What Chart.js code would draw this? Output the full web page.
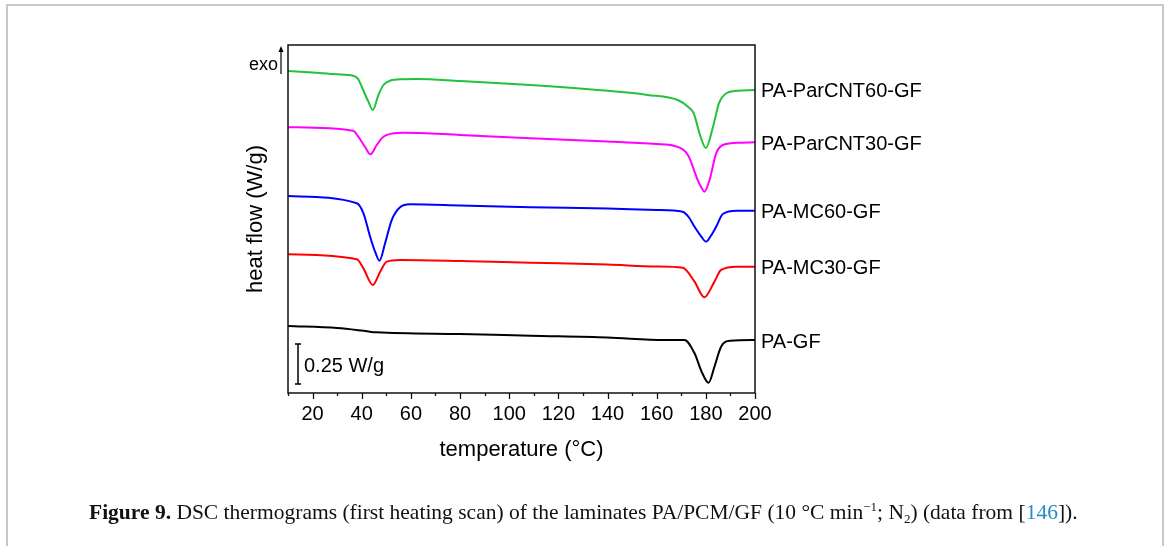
<!DOCTYPE html>
<html>
<head>
<meta charset="utf-8">
<script src="https://cdn.jsdelivr.net/npm/chart.js@4.4.0/dist/chart.umd.min.js"></script>
<style>
  body { margin: 0; background: #fff; width: 1167px; height: 546px; overflow: hidden; position: relative; }
  #frame { position: absolute; left: 6px; top: 4px; width: 1158px; height: 600px; box-sizing: border-box;
           border: 2px solid #c8c8c8; border-bottom: none; }
  #chart { position: absolute; left: 0; top: 0; }
  #caption { position: absolute; left: 89px; top: 498px; white-space: nowrap;
             font-family: "Liberation Serif", "DejaVu Serif", serif; font-size: 21.5px; line-height: 28px; color: #111; }
  #caption sup, #caption sub { font-size: 13px; line-height: 0; position: relative; vertical-align: baseline; }
  #caption sup { top: -8px; }
  #caption sub { top: 4px; }
  #caption .ref { color: #2a8bc6; }
</style>
</head>
<body>
<div id="frame"></div>
<canvas id="chart" width="1167" height="546"></canvas>
<div id="caption"><b>Figure 9.</b> DSC thermograms (first heating scan) of the laminates PA/PCM/GF (10 °C min<sup>−1</sup>; N<sub>2</sub>) (data from [<span class="ref">146</span>]).</div>
<script>
// series names (labels drawn at the right end of each curve)
const seriesNames = ['PA-ParCNT60-GF', 'PA-ParCNT30-GF', 'PA-MC60-GF', 'PA-MC30-GF', 'PA-GF'];
const seriesColors = ['#22c23a', '#ff00ff', '#0000ff', '#ff0000', '#000000'];

// temperature (°C) and heat flow (W/g, arbitrary offset)
const tempParCNT60 = [10, 20, 30, 36.5, 38.5, 40, 42.7, 44.5, 46.8, 48.8, 51.5, 57, 62.4, 80, 108.7, 135.9, 156.3, 168.6, 172.7, 175, 177.9, 180, 182.9, 185.4, 188.5, 192.6, 200];
const flowParCNT60 = [2.013, 2.003, 1.992, 1.983, 1.963, 1.914, 1.821, 1.769, 1.863, 1.925, 1.952, 1.961, 1.963, 1.95, 1.925, 1.894, 1.863, 1.831, 1.789, 1.75, 1.6, 1.531, 1.663, 1.813, 1.875, 1.889, 1.894];

const tempParCNT30 = [10, 36.5, 38.6, 41.3, 43.5, 46.1, 48.8, 52.9, 57, 80, 108.7, 140, 160, 167.2, 172.7, 176.7, 178.3, 179.4, 181.5, 184.2, 186.9, 192.6, 200];
const flowParCNT30 = [1.661, 1.639, 1.602, 1.539, 1.492, 1.55, 1.602, 1.623, 1.627, 1.613, 1.592, 1.572, 1.556, 1.544, 1.488, 1.331, 1.281, 1.258, 1.331, 1.498, 1.55, 1.564, 1.567];

const tempMC60 = [10, 38, 40.7, 43.4, 45.5, 47.2, 49.5, 52.2, 55.6, 59.7, 80, 108.7, 140, 160, 170.6, 173, 175.4, 178, 180.1, 182, 184.2, 186.9, 192.6, 200];
const flowMC60 = [1.231, 1.186, 1.123, 0.977, 0.881, 0.827, 0.936, 1.081, 1.161, 1.179, 1.172, 1.161, 1.153, 1.144, 1.133, 1.1, 1.039, 0.981, 0.946, 0.981, 1.039, 1.119, 1.139, 1.139];

const tempMC30 = [10, 38, 40.7, 44.5, 47.5, 50.2, 55.6, 80, 108.7, 140, 160, 170.6, 175.4, 179.4, 183.5, 186.2, 192.6, 200];
const flowMC30 = [0.867, 0.836, 0.779, 0.675, 0.758, 0.821, 0.831, 0.825, 0.814, 0.803, 0.791, 0.783, 0.696, 0.598, 0.696, 0.769, 0.789, 0.789];

const tempGF = [10, 30, 40.7, 46.1, 80, 108.7, 140, 163.1, 171.3, 175.4, 178.3, 181.1, 183.5, 186.2, 189.9, 200];
const flowGF = [0.419, 0.406, 0.389, 0.379, 0.369, 0.358, 0.347, 0.331, 0.331, 0.248, 0.133, 0.064, 0.164, 0.289, 0.327, 0.331];

const allTemps = [tempParCNT60, tempParCNT30, tempMC60, tempMC30, tempGF];
const allFlows = [flowParCNT60, flowParCNT30, flowMC60, flowMC30, flowGF];

// x axis range and tick labels
const xMin = 10, xMax = 200;
const xTickLabels = [20, 40, 60, 80, 100, 120, 140, 160, 180, 200];
// y range (no tick labels on this axis) and the 0.25 W/g scale bar
const yMin = 0, yMax = 2.175;
const scaleBarFrom = 0.056, scaleBarSize = 0.25;

const FONT = '"Liberation Sans", Arial, sans-serif';

function makeDataset(i) {
  return {
    label: seriesNames[i],
    data: allTemps[i].map((t, k) => ({ x: t, y: allFlows[i][k] })),
    borderColor: seriesColors[i],
    borderWidth: 2,
    pointRadius: 0,
    cubicInterpolationMode: 'monotone',
    fill: false
  };
}

// box, tick marks, curve labels, exo arrow and scale bar
const extras = {
  id: 'extras',
  afterDraw(chart) {
    const ctx = chart.ctx;
    const a = chart.chartArea;
    const xs = chart.scales.x, ys = chart.scales.y;
    ctx.save();
    ctx.strokeStyle = '#111';
    ctx.lineWidth = 1.5;
    ctx.strokeRect(a.left, a.top, a.right - a.left, a.bottom - a.top);

    // ticks every 10, longer at every 20
    ctx.lineWidth = 1.3;
    for (let v = xMin; v <= xMax; v += 10) {
      const px = Math.round(xs.getPixelForValue(v)) + 0.5;
      const len = (v % 20 === 0) ? 6 : 3;
      ctx.beginPath();
      ctx.moveTo(px, a.bottom);
      ctx.lineTo(px, a.bottom + len);
      ctx.stroke();
    }

    // series labels at right end
    ctx.fillStyle = '#000';
    ctx.font = '20px ' + FONT;
    ctx.textAlign = 'left';
    ctx.textBaseline = 'middle';
    for (let i = 0; i < seriesNames.length; i++) {
      const f = allFlows[i];
      const py = ys.getPixelForValue(f[f.length - 1]);
      ctx.fillText(seriesNames[i], a.right + 6, py + 2);
    }

    // exo arrow
    const ax = a.left - 7;
    ctx.strokeStyle = '#000';
    ctx.lineWidth = 1.2;
    ctx.beginPath();
    ctx.moveTo(ax, a.top + 29);
    ctx.lineTo(ax, a.top + 4);
    ctx.stroke();
    ctx.beginPath();
    ctx.moveTo(ax, a.top + 1);
    ctx.lineTo(ax - 2.5, a.top + 7);
    ctx.lineTo(ax + 2.5, a.top + 7);
    ctx.closePath();
    ctx.fill();
    ctx.font = '18px ' + FONT;
    ctx.textAlign = 'right';
    ctx.fillText('exo', ax - 3, a.top + 20);

    // scale bar
    const bx = a.left + 10;
    const y0 = ys.getPixelForValue(scaleBarFrom);
    const y1 = ys.getPixelForValue(scaleBarFrom + scaleBarSize);
    ctx.lineWidth = 1.5;
    ctx.beginPath();
    ctx.moveTo(bx, y0); ctx.lineTo(bx, y1);
    ctx.moveTo(bx - 3, y0); ctx.lineTo(bx + 3, y0);
    ctx.moveTo(bx - 3, y1); ctx.lineTo(bx + 3, y1);
    ctx.stroke();
    ctx.font = '20px ' + FONT;
    ctx.textAlign = 'left';
    ctx.fillText('0.25 W/g', bx + 6, (y0 + y1) / 2 + 2);
    ctx.restore();
  }
};

const myChart = new Chart(document.getElementById('chart'), {
  type: 'line',
  data: { datasets: allTemps.map((t, i) => makeDataset(i)) },
  options: {
    responsive: false,
    animation: false,
    devicePixelRatio: 1,
    layout: { padding: { left: 230, top: 45, right: 412, bottom: 83 } },
    plugins: { legend: { display: false }, tooltip: { enabled: false } },
    scales: {
      x: {
        type: 'linear',
        min: xMin,
        max: xMax,
        grid: { display: false, drawTicks: false },
        border: { display: false },
        ticks: {
          stepSize: 10,
          autoSkip: false,
          maxRotation: 0,
          padding: 9,
          color: '#000',
          font: { family: FONT, size: 20 },
          callback: v => xTickLabels.includes(v) ? String(v) : ''
        },
        title: { display: true, text: 'temperature (°C)', color: '#000',
                 font: { family: FONT, size: 22 }, padding: { top: 0, bottom: 0 } },
        afterFit: s => { s.height = 70; }
      },
      y: {
        min: yMin,
        max: yMax,
        grid: { display: false, drawTicks: false },
        border: { display: false },
        ticks: { display: false },
        title: { display: true, text: 'heat flow (W/g)', color: '#000',
                 font: { family: FONT, size: 22 }, padding: { top: 13, bottom: 0 } },
        afterFit: s => { s.width = 58; }
      }
    }
  },
  plugins: [extras]
});
</script>
</body>
</html>
